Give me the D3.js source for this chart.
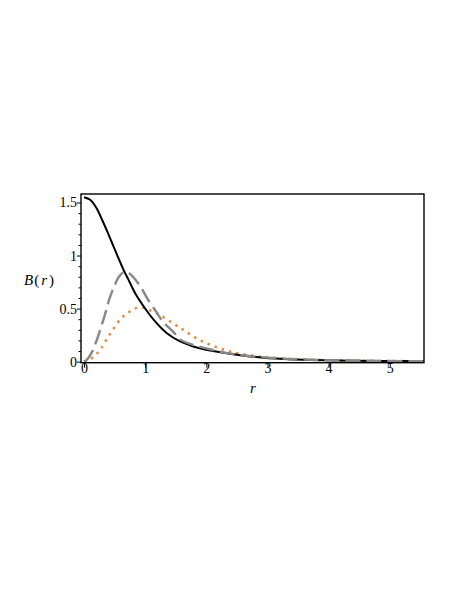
<!DOCTYPE html>
<html>
<head>
<meta charset="utf-8">
<script src="https://cdn.jsdelivr.net/npm/d3@7"></script>
<style>
html,body{margin:0;padding:0;background:#fff;}
svg{display:block;}
text{font-family:"Liberation Serif","DejaVu Serif",serif;fill:#000;}
</style>
</head>
<body>
<svg id="chart" width="458" height="592"></svg>
<script>
// ---- data ----
const blackR = [0,0.1,0.2,0.3,0.37,0.45,0.53,0.65,0.72,0.85,1.0,1.13,1.35,1.57,1.75,1.89,2.06,2.38,2.93,3.48,4.0,4.5,5.0,5.56];
const blackB = [1.55,1.525,1.45,1.33,1.24,1.13,1.02,0.86,0.78,0.63,0.50,0.40,0.27,0.19,0.15,0.127,0.105,0.075,0.037,0.02,0.012,0.008,0.006,0.004];

const grayR = [0,0.05,0.12,0.2,0.28,0.35,0.42,0.5,0.57,0.65,0.72,0.8,0.94,1.05,1.18,1.3,1.46,1.57,1.75,2.0,2.3,2.6,3.0,3.5,4.0,4.5,5.0,5.56];
const grayB = [0,0.02,0.08,0.19,0.33,0.46,0.6,0.72,0.8,0.845,0.84,0.8,0.69,0.58,0.47,0.37,0.28,0.21,0.165,0.125,0.085,0.06,0.038,0.022,0.013,0.009,0.006,0.004];

const orangeR = [0,0.12,0.2,0.28,0.37,0.47,0.61,0.72,0.83,0.95,1.05,1.24,1.46,1.62,1.84,2.06,2.3,2.52,2.77,2.98,3.34,3.58,4.0,4.5,5.0,5.56];
const orangeB = [0,0.03,0.07,0.125,0.21,0.30,0.41,0.46,0.50,0.51,0.49,0.44,0.36,0.30,0.22,0.16,0.11,0.078,0.056,0.041,0.026,0.02,0.014,0.009,0.006,0.004];

const xTicks = [0,1,2,3,4,5];
const yTicks = [0,0.5,1,1.5];
const yMinorTicks = [0.1,0.2,0.3,0.4,0.6,0.7,0.8,0.9,1.1,1.2,1.3,1.4];
const xDomain = [-0.05,5.56];
const yDomain = [-0.01,1.58];

// ---- layout ----
const pLeft = 81, pRight = 424, pTop = 194, pBottom = 362.7;
const svg = d3.select("#chart");
const x = d3.scaleLinear().domain(xDomain).range([pLeft,pRight]);
const y = d3.scaleLinear().domain(yDomain).range([pBottom,pTop]);

svg.append("defs").append("clipPath").attr("id","clip")
  .append("rect").attr("x",pLeft).attr("y",pTop).attr("width",pRight-pLeft).attr("height",pBottom-pTop);

const line = d3.line().x(d=>x(d[0])).y(d=>y(d[1])).curve(d3.curveCatmullRom.alpha(0.5));
const plot = svg.append("g").attr("clip-path","url(#clip)");

plot.append("path").datum(d3.zip(orangeR,orangeB)).attr("d",line)
  .attr("fill","none").attr("stroke","#e08c40").attr("stroke-width",2.5)
  .attr("stroke-dasharray","2.5,5");
plot.append("path").datum(d3.zip(blackR,blackB)).attr("d",line)
  .attr("fill","none").attr("stroke","#000").attr("stroke-width",2);
plot.append("path").datum(d3.zip(grayR,grayB)).attr("d",line)
  .attr("fill","none").attr("stroke","#888").attr("stroke-width",2.4)
  .attr("stroke-dasharray","15,6");

// axes
const serif = "Liberation Serif, DejaVu Serif, serif";
const xAxis = d3.axisBottom(x).tickValues(xTicks).tickSize(5).tickSizeOuter(0).tickFormat(d3.format("d"));
const gx = svg.append("g").attr("transform",`translate(0,${pBottom})`).call(xAxis)
  .attr("font-size",14).attr("font-family",serif);
gx.select(".domain").remove();
gx.selectAll("text").attr("dy","0.62em").attr("y",2);

const yAxis = d3.axisLeft(y).tickValues(yTicks).tickSize(4).tickSizeOuter(0)
  .tickFormat(d=>d===0?"0":(d%1===0?d3.format("d")(d):d3.format(".1f")(d)));
const gy = svg.append("g").attr("transform",`translate(${pLeft},0)`).call(yAxis)
  .attr("font-size",14).attr("font-family",serif);
gy.select(".domain").remove();
gy.selectAll("text").attr("x",-4);

const yMinor = d3.axisLeft(y).tickValues(yMinorTicks).tickSize(2.5).tickFormat("").tickSizeOuter(0);
const gym = svg.append("g").attr("transform",`translate(${pLeft},0)`).call(yMinor);
gym.select(".domain").remove();

// frame
svg.append("rect").attr("x",pLeft).attr("y",pTop).attr("width",pRight-pLeft).attr("height",pBottom-pTop)
  .attr("fill","none").attr("stroke","#000").attr("stroke-width",1.4);

// labels
const bl = svg.append("text").attr("x",24).attr("y",285).attr("font-size",15).attr("font-family",serif);
bl.append("tspan").attr("font-style","italic").text("B");
bl.append("tspan").attr("dx",1).text("(");
bl.append("tspan").attr("font-style","italic").attr("dx",2).text("r");
bl.append("tspan").attr("dx",2).text(")");

svg.append("text").attr("x",253).attr("y",393).attr("font-size",15).attr("font-family",serif)
  .attr("font-style","italic").attr("text-anchor","middle").text("r");
</script>
</body>
</html>
